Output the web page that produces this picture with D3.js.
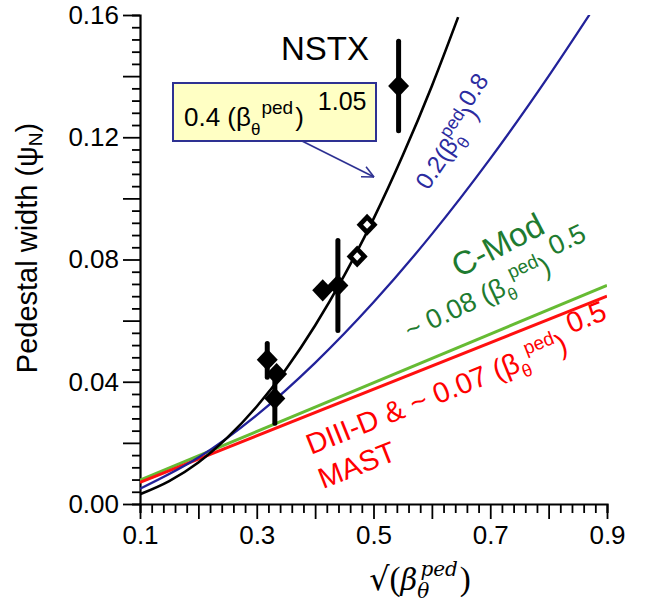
<!DOCTYPE html>
<html><head><meta charset="utf-8">
<script src="https://cdn.jsdelivr.net/npm/d3@7"></script>
<style>body{margin:0;background:#fff}svg{display:block;font-family:"Liberation Sans",Arial,sans-serif}</style>
</head><body><svg id="c" width="645" height="605"></svg>
<script>
// ---- data ----
const xTicks = [0.1, 0.3, 0.5, 0.7, 0.9];
const yTicks = [0.00, 0.04, 0.08, 0.12, 0.16];
// NSTX measurements
const ptX   = [0.318, 0.334, 0.331, 0.413, 0.439, 0.472, 0.489, 0.543];
const ptY   = [0.0472, 0.0425, 0.0345, 0.0699, 0.0715, 0.0810, 0.0914, 0.1368];
const errLo = [0.0415, null, 0.0264, null, 0.0568, null, null, 0.1221];
const errHi = [0.0525, null, 0.0400, null, 0.0862, null, null, 0.1514];
const hollow = [false, false, false, false, false, true, true, false];
// fit curves
const blackX = [0.10, 0.15, 0.20, 0.25, 0.30, 0.35, 0.40, 0.45, 0.50, 0.55, 0.60, 0.645];
const blackY = [0.0032, 0.0075, 0.0136, 0.0218, 0.0319, 0.0441, 0.0584, 0.0748, 0.0933, 0.1140, 0.1368, 0.1593];
const blueX  = [0.10, 0.20, 0.30, 0.40, 0.50, 0.60, 0.70, 0.80, 0.87];
const blueY  = [0.0050, 0.0152, 0.0291, 0.0462, 0.0660, 0.0883, 0.1130, 0.1400, 0.1601];
const greenX = [0.10, 0.90];
const greenY = [0.0078, 0.0715];
const redX   = [0.10, 0.90];
const redY   = [0.0071, 0.0680];

const svg = d3.select("#c");
const L = 140, R = 607, T = 15, B = 504;
const x = d3.scaleLinear().domain([0.1, 0.9]).range([L, R]);
const y = d3.scaleLinear().domain([0, 0.16]).range([B, T]);

// axes
const xMinor = d3.range(0.1, 0.9001, 0.02);
const yMinor = d3.range(0, 0.16001, 0.004);
const gx = svg.append("g").attr("transform", `translate(0,${B})`);
gx.call(d3.axisBottom(x).tickValues(xMinor).tickSize(9).tickFormat(""));
gx.call(g => g.selectAll(".tick line").attr("y2", (d) => Math.abs(Math.round(d*10) - d*10) < 1e-6 ? 15 : 9));
gx.append("g").call(d3.axisBottom(x).tickValues(xTicks).tickSize(0).tickPadding(22).tickFormat(d3.format(".1f")))
  .call(g => g.select(".domain").remove());
const gy = svg.append("g").attr("transform", `translate(${L},0)`);
gy.call(d3.axisLeft(y).tickValues(yMinor).tickSize(8).tickFormat(""));
gy.call(g => g.selectAll(".tick line").attr("x2", (d) => Math.abs(Math.round(d*50) - d*50) < 1e-6 ? -17 : -8));
gy.append("g").call(d3.axisLeft(y).tickValues(yTicks).tickSize(0).tickPadding(21).tickFormat(d3.format(".2f")))
  .call(g => g.select(".domain").remove());
svg.selectAll(".domain").attr("stroke", "#000").attr("stroke-width", 2.2);
svg.selectAll(".tick line").attr("stroke", "#000").attr("stroke-width", 1.8);
svg.selectAll(".tick text").attr("font-size", 26).attr("fill", "#000").attr("font-family", "Liberation Sans, Arial, sans-serif");

// axis titles
const yt = svg.append("text").attr("transform", "translate(37,248) rotate(-90)")
  .attr("text-anchor", "middle").attr("font-size", 29).attr("fill", "#000");
yt.append("tspan").text("Pedestal width (ψ");
yt.append("tspan").attr("font-size", 19).attr("dy", 5).text("N");
yt.append("tspan").attr("dy", -5).text(")");

const xt = svg.append("text").attr("x", 420).attr("y", 590).attr("text-anchor", "middle")
  .attr("font-family", "DejaVu Serif, Liberation Serif, serif").attr("font-size", 29).attr("fill", "#000");
xt.append("tspan").attr("font-family", "DejaVu Sans, sans-serif").attr("font-size", 32).text("√");
xt.append("tspan").attr("font-style", "normal").attr("font-family", "Liberation Serif, serif").attr("font-size", 33).text("(");
xt.append("tspan").attr("font-style", "italic").text("β");
xt.append("tspan").attr("font-style", "italic").attr("font-size", 20).attr("dy", 8).text("θ");
xt.append("tspan").attr("font-style", "italic").attr("font-size", 20).attr("dx", -9).attr("dy", -22).text("ped");
xt.append("tspan").attr("font-style", "normal").attr("font-family", "Liberation Serif, serif").attr("font-size", 33).attr("dx", 2).attr("dy", 14).text(")");

// curves
svg.append("clipPath").attr("id", "clip").append("rect").attr("x", L).attr("y", T).attr("width", R - L).attr("height", B - T);
const plot = svg.append("g").attr("clip-path", "url(#clip)");
const curve = (xs, ys) => d3.line().x((d) => x(d)).y((d, i) => y(ys[i])).curve(d3.curveMonotoneX)(xs);
plot.append("path").attr("d", curve(greenX, greenY)).attr("fill", "none").attr("stroke", "#66bb33").attr("stroke-width", 3);
plot.append("path").attr("d", curve(redX, redY)).attr("fill", "none").attr("stroke", "#ff1010").attr("stroke-width", 3);
plot.append("path").attr("d", curve(blueX, blueY)).attr("fill", "none").attr("stroke", "#22229a").attr("stroke-width", 2.3);
plot.append("path").attr("d", curve(blackX, blackY)).attr("fill", "none").attr("stroke", "#000").attr("stroke-width", 2.6);

// error bars and diamonds
const pts = ptX.map((v, i) => ({x: v, y: ptY[i], lo: errLo[i], hi: errHi[i], h: hollow[i]}));
svg.append("g").selectAll("line").data(pts.filter(d => d.lo != null)).join("line")
  .attr("x1", d => x(d.x)).attr("x2", d => x(d.x)).attr("y1", d => y(d.lo)).attr("y2", d => y(d.hi))
  .attr("stroke", "#000").attr("stroke-width", 5).attr("stroke-linecap", "round");
const diamond = (r) => `M0,${-r * 1.05}L${r},0L0,${r * 1.05}L${-r},0Z`;
const dg = svg.append("g").selectAll("g").data(pts).join("g").attr("transform", d => `translate(${x(d.x)},${y(d.y)})`);
dg.append("path").attr("d", diamond(10.5)).attr("fill", "#000");
dg.filter(d => d.h).append("path").attr("d", diamond(4)).attr("fill", "#fff");

// NSTX label
svg.append("text").attr("x", 281).attr("y", 60).attr("font-size", 33).attr("fill", "#000").text("NSTX");

// boxed formula with arrow
svg.append("rect").attr("x", 173).attr("y", 83).attr("width", 203).attr("height", 58)
  .attr("fill", "#ffffc4").attr("stroke", "#2e3192").attr("stroke-width", 2);
const bt = svg.append("text").attr("x", 184).attr("y", 126).attr("font-size", 26).attr("fill", "#000");
bt.append("tspan").text("0.4 (β");
bt.append("tspan").attr("font-size", 17).attr("dy", 9).text("θ");
bt.append("tspan").attr("font-size", 19).attr("dy", -21).attr("dx", 1).text("ped");
bt.append("tspan").attr("dy", 12).attr("dx", 2).text(")");
bt.append("tspan").attr("font-size", 25).attr("dy", -16).attr("dx", 14).text("1.05");
const ax1 = 302, ay1 = 141, ax2 = 374, ay2 = 177;
svg.append("line").attr("x1", ax1).attr("y1", ay1).attr("x2", ax2).attr("y2", ay2).attr("stroke", "#2e3192").attr("stroke-width", 1.6);
const ang = Math.atan2(ay2 - ay1, ax2 - ax1);
[-0.45, 0.45].forEach(a => svg.append("line").attr("x1", ax2).attr("y1", ay2)
  .attr("x2", ax2 - 13 * Math.cos(ang + a)).attr("y2", ay2 - 13 * Math.sin(ang + a))
  .attr("stroke", "#2e3192").attr("stroke-width", 1.6));

// blue rotated formula
const blt = svg.append("text").attr("transform", "translate(428,191) rotate(-56)").attr("font-size", 24).attr("fill", "#2c2ca0");
blt.append("tspan").text("0.2(β");
blt.append("tspan").attr("font-size", 17).attr("dy", 8).text("θ");
blt.append("tspan").attr("font-size", 18).attr("dx", -10).attr("dy", -20).text("ped");
blt.append("tspan").attr("dy", 12).text(")");
blt.append("tspan").attr("dy", -11).text("0.8");

// C-Mod labels
svg.append("text").attr("transform", "translate(459,278) rotate(-27.5)").attr("font-size", 33).attr("fill", "#1e7b30").text("C-Mod");
const gt = svg.append("text").attr("transform", "translate(410,340) rotate(-25.2)").attr("font-size", 27).attr("fill", "#1e7b30");
gt.append("tspan").text("~ 0.08 (β");
gt.append("tspan").attr("font-size", 17).attr("dy", 8).text("θ");
gt.append("tspan").attr("font-size", 19).attr("dy", -20).text("ped");
gt.append("tspan").attr("dy", 12).text(")");
gt.append("tspan").attr("dy", -15).attr("dx", 8).text("0.5");

// DIII-D & MAST labels
const rt = svg.append("text").attr("transform", "translate(311,455) rotate(-21.8)").attr("font-size", 29).attr("fill", "#ff0000");
rt.append("tspan").text("DIII-D & ~ 0.07 (β");
rt.append("tspan").attr("font-size", 18).attr("dy", 8).text("θ");
rt.append("tspan").attr("font-size", 19).attr("dy", -21).text("ped");
rt.append("tspan").attr("dy", 13).text(")");
rt.append("tspan").attr("dy", -16).attr("dx", 8).text("0.5");
svg.append("text").attr("transform", "translate(323,489) rotate(-21.5)").attr("font-size", 29).attr("fill", "#ff0000").text("MAST");
</script></body></html>
